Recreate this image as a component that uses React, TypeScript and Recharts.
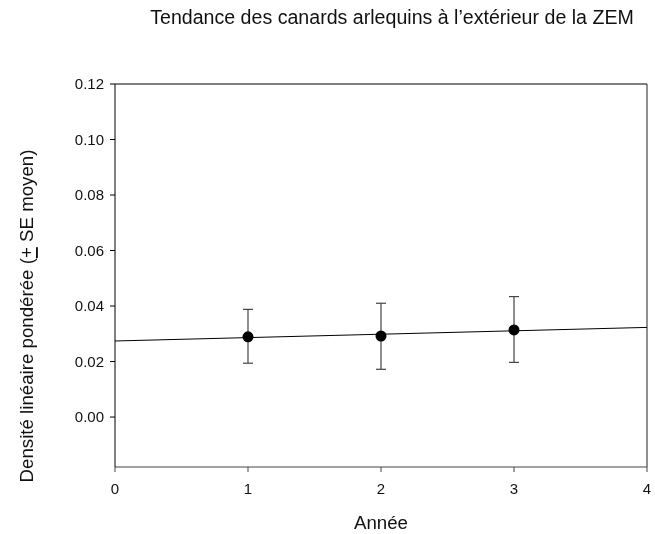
import {
  ComposedChart,
  Scatter,
  Line,
  XAxis,
  YAxis,
  ErrorBar,
  ReferenceLine,
} from 'recharts'

// Years (x) and mean weighted linear density with SE
const years = [1, 2, 3]
const density = [0.0289, 0.0292, 0.0314]
const seLow = [0.0095, 0.012, 0.0117]
const seHigh = [0.0099, 0.0118, 0.012]

// Fitted trend line end points
const trendX = [0, 4]
const trendY = [0.0274, 0.0323]

const xTicks = [0, 1, 2, 3, 4]
const yTicks = [0, 0.02, 0.04, 0.06, 0.08, 0.1, 0.12]

const points = years.map((x, i) => ({
  x,
  y: density[i],
  err: [seLow[i], seHigh[i]],
}))
const trend = trendX.map((x, i) => ({ x, fit: trendY[i] }))

const FONT = '"Liberation Sans", Arial, sans-serif'
const tickStyle = { fontSize: 15, fill: '#111', fontFamily: FONT }

function YLabel() {
  return (
    <text
      x={26}
      y={316}
      transform="rotate(-90, 26, 316)"
      textAnchor="middle"
      dominantBaseline="central"
      fontSize={18.7}
      fontFamily={FONT}
      fill="#111"
    >
      Densité linéaire pondérée (<tspan textDecoration="underline">+</tspan> SE moyen)
    </text>
  )
}

export default function App() {
  return (
    <div style={{ position: 'fixed', left: 0, top: 0, width: 655, height: 534, background: '#fff', fontFamily: FONT }}>
      <div
        style={{
          position: 'absolute',
          left: 0,
          width: 784,
          top: 6,
          textAlign: 'center',
          fontSize: 19.6,
          color: '#111',
        }}
      >
        Tendance des canards arlequins à l’extérieur de la ZEM
      </div>
      <ComposedChart
        width={655}
        height={534}
        margin={{ top: 84, right: 8, left: 0, bottom: 37 }}
      >
        <XAxis
          xAxisId="b"
          type="number"
          dataKey="x"
          domain={[0, 4]}
          ticks={xTicks}
          allowDataOverflow
          tick={tickStyle}
          tickSize={5}
          tickMargin={11}
          axisLine={{ stroke: '#444' }}
          tickLine={{ stroke: '#444' }}
          height={30}
          label={{ value: 'Année', position: 'bottom', offset: 19, style: { fontSize: 18.7, fill: '#111', fontFamily: FONT } }}
        />
        <YAxis
          yAxisId="l"
          type="number"
          domain={[-0.018, 0.12]}
          ticks={yTicks}
          allowDataOverflow
          tickFormatter={(v: number) => v.toFixed(2)}
          tick={tickStyle}
          tickSize={5}
          tickMargin={6}
          axisLine={{ stroke: '#000' }}
          tickLine={{ stroke: '#000' }}
          width={115}
          label={{ content: () => <YLabel /> }}
        />
        <ReferenceLine xAxisId="b" yAxisId="l" y={0.12} stroke="#000" strokeWidth={1} ifOverflow="visible" />
        <ReferenceLine xAxisId="b" yAxisId="l" x={4} stroke="#222" strokeWidth={1} ifOverflow="visible" />
        <Line
          xAxisId="b"
          yAxisId="l"
          data={trend}
          dataKey="fit"
          type="linear"
          stroke="#000"
          strokeWidth={1}
          dot={false}
          activeDot={false}
          isAnimationActive={false}
        />
        <Scatter
          xAxisId="b"
          yAxisId="l"
          data={points}
          dataKey="y"
          fill="#000"
          shape={(p: any) => <circle cx={p.cx} cy={p.cy} r={5.5} fill="#000" />}
          isAnimationActive={false}
        >
          <ErrorBar dataKey="err" direction="y" width={5} stroke="#444" strokeWidth={1.2} isAnimationActive={false} />
        </Scatter>
      </ComposedChart>
    </div>
  )
}
